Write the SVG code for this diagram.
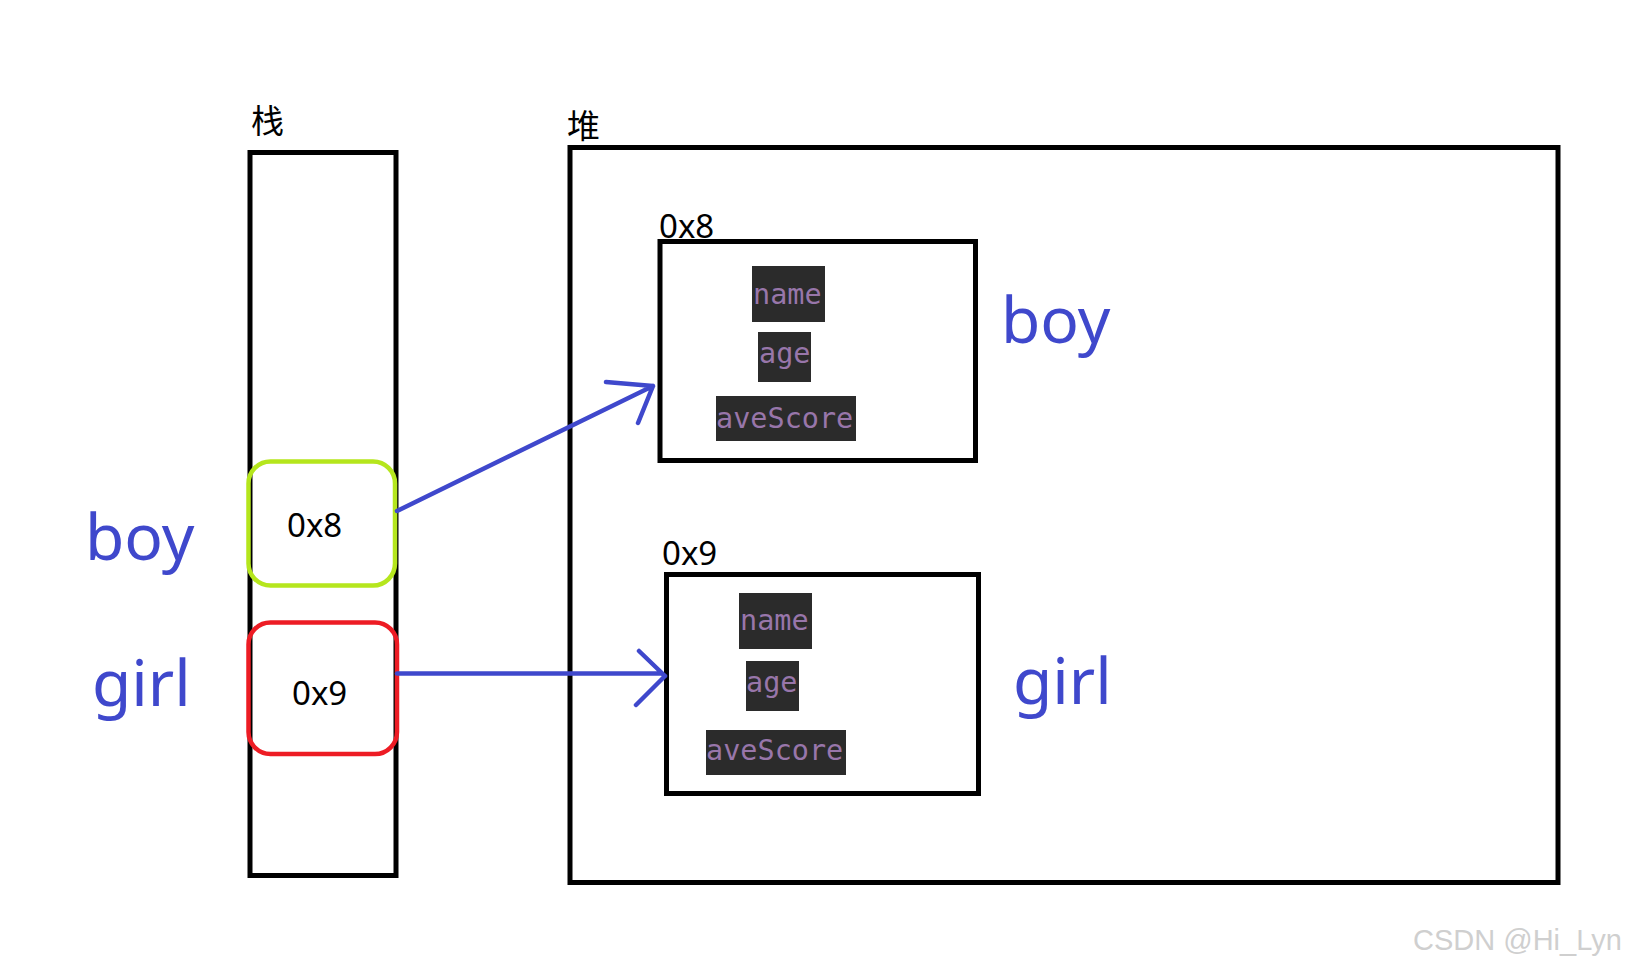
<svg xmlns="http://www.w3.org/2000/svg" width="1625" height="969" viewBox="0 0 1625 969">
<defs>
<style>
.frame{fill:none;stroke:#000;stroke-width:5}
.cjk{font-family:"Noto Sans CJK SC","Noto Sans",sans-serif;font-size:33px;fill:#000}
.addr{font-family:"Noto Sans","Open Sans",sans-serif;font-size:33px;fill:#000}
.big{font-family:"Noto Sans","Open Sans",sans-serif;font-size:64px;fill:#3F48CC}
.code{fill:#2B2B2B}
.field{font-family:"DejaVu Sans Mono","Liberation Mono",monospace;font-size:28.5px;fill:#9876AA}
.conn{fill:none;stroke:#3F48CC;stroke-width:4.5;stroke-linecap:round;stroke-linejoin:round}
.wm{font-family:"Liberation Sans",Arial,sans-serif;font-size:29px;fill:#cfcfcf}
</style>
</defs>
<rect width="1625" height="969" fill="#fff"/>

<g id="stack">
<text class="cjk" x="251" y="133">栈</text>
<rect class="frame" x="250" y="152.5" width="146" height="723"/>
</g>

<g id="heap">
<text class="cjk" x="567" y="138">堆</text>
<rect class="frame" x="570" y="147.5" width="988" height="735"/>
</g>

<g id="stack-boy">
<rect x="248.5" y="461.5" width="146.5" height="124" rx="22" fill="none" stroke="#B5E61D" stroke-width="4.5"/>
<text class="addr" x="287" y="537">0x8</text>
</g>

<g id="stack-girl">
<rect x="248.5" y="622.5" width="148.5" height="131.5" rx="22" fill="none" stroke="#ED1C24" stroke-width="4.5"/>
<text class="addr" x="292" y="705">0x9</text>
</g>

<g id="label-boy-left"><text class="big" x="85" y="560">boy</text></g>
<g id="label-girl-left"><text class="big" x="92" y="706">girl</text></g>
<g id="label-boy-right"><text class="big" x="1001" y="343">boy</text></g>
<g id="label-girl-right"><text class="big" x="1013" y="704">girl</text></g>

<g id="heap-boy">
<text class="addr" x="659" y="238">0x8</text>
<rect class="frame" x="660" y="241.5" width="315.5" height="219"/>
<rect class="code" x="752" y="266" width="73" height="56"/>
<text class="field" x="753" y="304">name</text>
<rect class="code" x="758" y="332" width="53" height="50"/>
<text class="field" x="759" y="363">age</text>
<rect class="code" x="716" y="396" width="140" height="45"/>
<text class="field" x="716" y="428">aveScore</text>
</g>

<g id="heap-girl">
<text class="addr" x="662" y="565">0x9</text>
<rect class="frame" x="666.5" y="574.5" width="312" height="219"/>
<rect class="code" x="739" y="593" width="73" height="56"/>
<text class="field" x="740" y="630">name</text>
<rect class="code" x="746" y="661" width="53" height="50"/>
<text class="field" x="746" y="692">age</text>
<rect class="code" x="706" y="730" width="140" height="45"/>
<text class="field" x="706" y="760">aveScore</text>
</g>

<g id="connectors">
<path class="conn" d="M397 511 L653 386 M606 382 L653 386 L638 423"/>
<path class="conn" d="M397 673.5 L662 673.5 L665 676 M639 651 L665 676 L636 705"/>
</g>

<text class="wm" x="1413" y="950">CSDN @Hi_Lyn</text>
</svg>
